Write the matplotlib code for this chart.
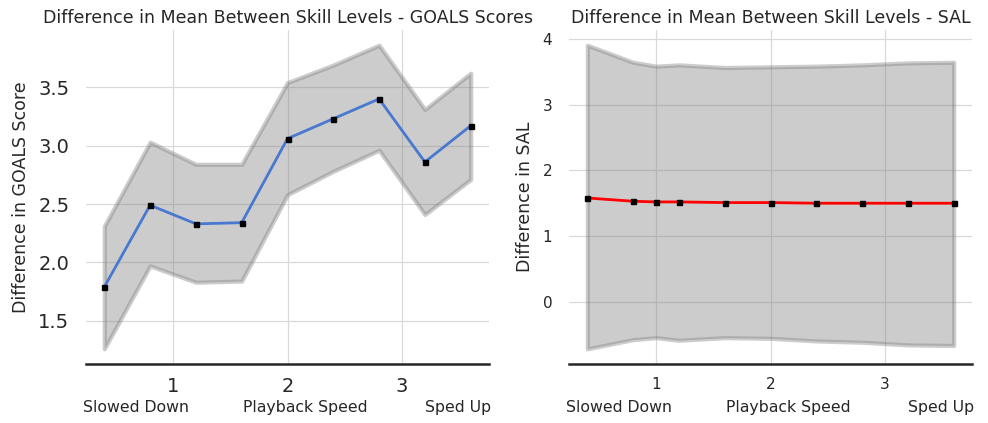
import numpy as np
import matplotlib
matplotlib.use('Agg')
from matplotlib import pyplot as plt
import seaborn as sns

sns.set_style('whitegrid')
plt.rcParams['font.family'] = ['DejaVu Sans']

# playback speed positions
speed_goals = [0.4, 0.8, 1.2, 1.6, 2.0, 2.4, 2.8, 3.2, 3.6]
goals_mean = [1.79, 2.49, 2.33, 2.34, 3.06, 3.23, 3.40, 2.86, 3.17]
goals_upper = [2.31, 3.03, 2.84, 2.84, 3.54, 3.69, 3.86, 3.31, 3.62]
goals_lower = [1.26, 1.97, 1.83, 1.84, 2.58, 2.78, 2.96, 2.41, 2.71]

speed_sal = [0.4, 0.8, 1.0, 1.2, 1.6, 2.0, 2.4, 2.8, 3.2, 3.6]
sal_mean = [1.58, 1.53, 1.52, 1.52, 1.51, 1.51, 1.50, 1.50, 1.50, 1.50]
sal_upper = [3.91, 3.65, 3.59, 3.61, 3.57, 3.58, 3.59, 3.61, 3.64, 3.65]
sal_lower = [-0.72, -0.58, -0.55, -0.59, -0.55, -0.56, -0.60, -0.62, -0.66, -0.67]

speed_ticks = [1, 2, 3]
speed_words = ['Slowed Down', 'Playback Speed', 'Sped Up']

fig = plt.figure(figsize=(9.88, 4.23), dpi=100)
ax1 = fig.add_axes([86 / 988, 1 - 364 / 423, 403 / 988, 334 / 423])
ax2 = fig.add_axes([569 / 988, 1 - 364 / 423, 403 / 988, 334 / 423])


def draw(ax, x, mean, lower, upper, color, title, ylabel, fs):
    ax.fill_between(x, lower, upper, color='gray', alpha=0.4, linewidth=3)
    ax.plot(x, mean, color=color, linewidth=2)
    ax.plot(x, mean, 's', color='black', markersize=3.6)
    ax.set_xticks(speed_ticks)
    ax.tick_params(axis='both', labelsize=fs, colors='#262626', length=0)
    ax.tick_params(axis='x', pad=9)
    ax.tick_params(axis='y', pad=12)
    ax.set_title(title, fontsize=12.5, color='#262626', pad=5)
    ax.set_ylabel(ylabel, fontsize=12.5, color='#262626', labelpad=6)
    for s in ['left', 'right', 'top']:
        ax.spines[s].set_visible(False)
    ax.spines['bottom'].set_color('#262626')
    ax.spines['bottom'].set_linewidth(1.8)
    ax.grid(True, color='#d9d9d9', linewidth=0.9)
    ax.text(-0.008, -0.13, speed_words[0], transform=ax.transAxes, ha='left', va='center',
            fontsize=11.3, color='#262626')
    ax.text(0.543, -0.13, speed_words[1], transform=ax.transAxes, ha='center', va='center',
            fontsize=11.3, color='#262626')
    ax.text(1.005, -0.13, speed_words[2], transform=ax.transAxes, ha='right', va='center',
            fontsize=11.3, color='#262626')


draw(ax1, speed_goals, goals_mean, goals_lower, goals_upper, '#4878d0',
     'Difference in Mean Between Skill Levels - GOALS Scores', 'Difference in GOALS Score', 14)
ax1.set_yticks([1.5, 2.0, 2.5, 3.0, 3.5])
draw(ax2, speed_sal, sal_mean, sal_lower, sal_upper, 'red',
     'Difference in Mean Between Skill Levels - SAL', 'Difference in SAL', 11)
ax2.set_yticks([0, 1, 2, 3, 4])

fig.savefig('out.png', dpi=100)
